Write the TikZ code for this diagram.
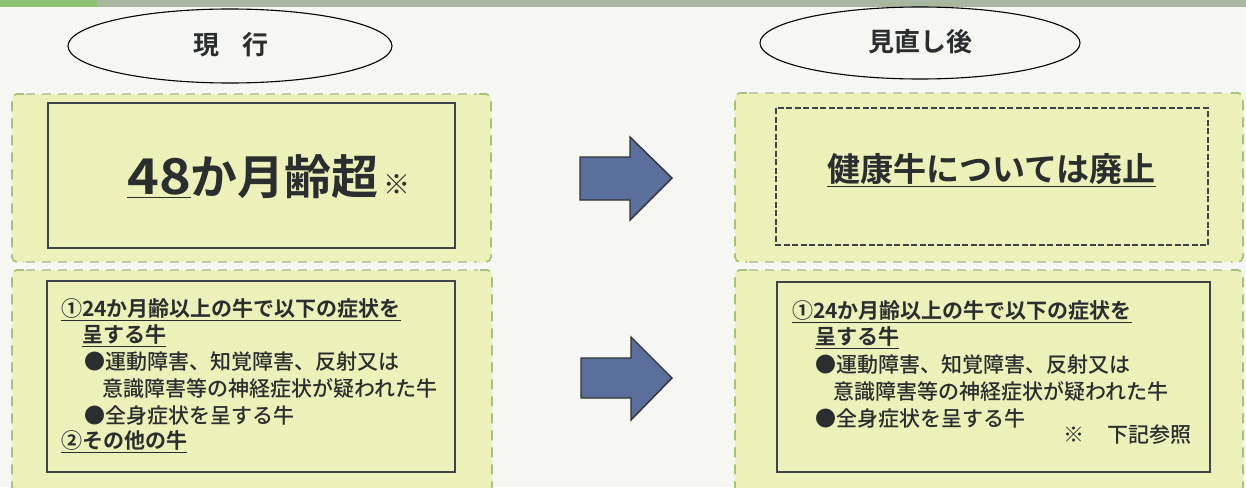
\documentclass[tikz,border=0pt]{standalone}
\usepackage{fontspec}
\setmainfont{Noto Sans CJK JP Medium}
\newfontfamily\jpb{Noto Sans CJK JP Bold}
\begin{document}
\begin{tikzpicture}[x=1pt,y=-1pt,
  outerfill/.style={fill=boxfill, rounded corners=5pt},
  sidedash/.style={draw=outerside, line width=1.8pt, dash pattern=on 10pt off 7pt, rounded corners=5pt},
  hdash/.style={draw=outerh, line width=1.6pt, dash pattern=on 9pt off 7pt},
  innerbox/.style={draw=innerline, line width=2.8pt},
  innerdash/.style={draw=innerline, line width=2.8pt, dash pattern=on 6pt off 2.5pt},
  headtxt/.style={font=\jpb\fontsize{26}{30}\selectfont, text=textc},
  line/.style={anchor=west, inner sep=0pt, text=textc, font=\fontsize{21}{25}\selectfont},
  bline/.style={line, font=\jpb\fontsize{21}{25}\selectfont},
  bigarrow/.style={draw=arrowline, fill=arrowfill, line width=1.4pt, line join=miter}
]
\definecolor{paper}{HTML}{F6F6F2}
\definecolor{boxfill}{HTML}{EEF0BA}
\definecolor{outerside}{HTML}{A5C27A}
\definecolor{outerh}{HTML}{C3CBAE}
\definecolor{innerline}{HTML}{3E4449}
\definecolor{textc}{HTML}{2A2E2E}
\definecolor{arrowfill}{HTML}{5B6F9C}
\definecolor{arrowline}{HTML}{303336}
\definecolor{bandgreen}{HTML}{8DC370}
\definecolor{bandgray}{HTML}{A8B8A0}

\useasboundingbox (0,0) rectangle (1246,487);
\fill[paper] (0,0) rectangle (1246,487);
\fill[bandgray] (0,0) rectangle (1246,7);
\fill[bandgreen] (0,0) rectangle (97,7);

% headers
\draw[line width=1.1pt] (230,46) ellipse [x radius=162, y radius=37];
\node[headtxt] (hl) at (231,45) {現\hspace{0.9em}行};
\draw[line width=1.1pt] (920,43) ellipse [x radius=160, y radius=36];
\node[headtxt] (hr) at (920,42) {見直し後};

% outer boxes (fill, then green dashed sides, pale dashed top and bottom)
\foreach \xa/\xb/\ya/\yb in {12/491/94/262, 12/492/270/492, 735/1243/93/262, 735/1243/270/492}{
  \path[outerfill] (\xa,\ya) rectangle (\xb,\yb);
  \draw[sidedash] (\xa+12,\ya) -- (\xa,\ya) -- (\xa,\yb) -- (\xa+12,\yb);
  \draw[sidedash] (\xb-12,\ya) -- (\xb,\ya) -- (\xb,\yb) -- (\xb-12,\yb);
  \draw[hdash] (\xa+14,\ya) -- (\xb-14,\ya);
  \draw[hdash] (\xa+14,\yb) -- (\xb-14,\yb);
}

% inner boxes
\draw[innerbox] (48,103) rectangle (455,248);
\draw[innerbox] (47,281) rectangle (455,472);
\draw[innerdash] (776,108) rectangle (1208,245);
\draw[innerbox] (777,282) rectangle (1210,472);

% top-left text
\node[anchor=west, inner sep=0pt, text=textc, font=\jpb\fontsize{47}{50}\selectfont] (t48) at (127,177)
  {\underline{\scalebox{1.15}[1.05]{48}}か月齢超\hspace{0.1em}{\fontsize{27}{28}\selectfont ※}};
% top-right text
\node[anchor=west, inner sep=0pt, text=textc, font=\jpb\fontsize{33}{36}\selectfont] (tab) at (827,170)
  {\underline{健康牛については廃止}};

% bottom-left text
\node[bline] (l1) at (61,310) {\underline{①24か月齢以上の牛で以下の症状を}};
\node[bline] (l2) at (82,336) {\underline{呈する牛}};
\node[line] (l3) at (84,362) {●運動障害、知覚障害、反射又は};
\node[line] (l4) at (102,388) {意識障害等の神経症状が疑われた牛};
\node[line] (l5) at (84,415) {●全身症状を呈する牛};
\node[bline] (l6) at (61,442) {\underline{②その他の牛}};

% bottom-right text
\node[bline] (r1) at (792,312) {\underline{①24か月齢以上の牛で以下の症状を}};
\node[bline] (r2) at (815,338) {\underline{呈する牛}};
\node[line] (r3) at (815,365) {●運動障害、知覚障害、反射又は};
\node[line] (r4) at (833,391) {意識障害等の神経症状が疑われた牛};
\node[line] (r5) at (815,418) {●全身症状を呈する牛};
\node[line] (r6) at (1063,435) {※\hspace{1.1em}下記参照};

% arrows
\draw[bigarrow] (580,157) -- (630,157) -- (630,137) -- (672,178) -- (630,220) -- (630,200) -- (580,200) -- cycle;
\draw[bigarrow] (581,358) -- (631,358) -- (631,337) -- (672,378) -- (631,420) -- (631,398) -- (581,398) -- cycle;
\end{tikzpicture}
\end{document}
